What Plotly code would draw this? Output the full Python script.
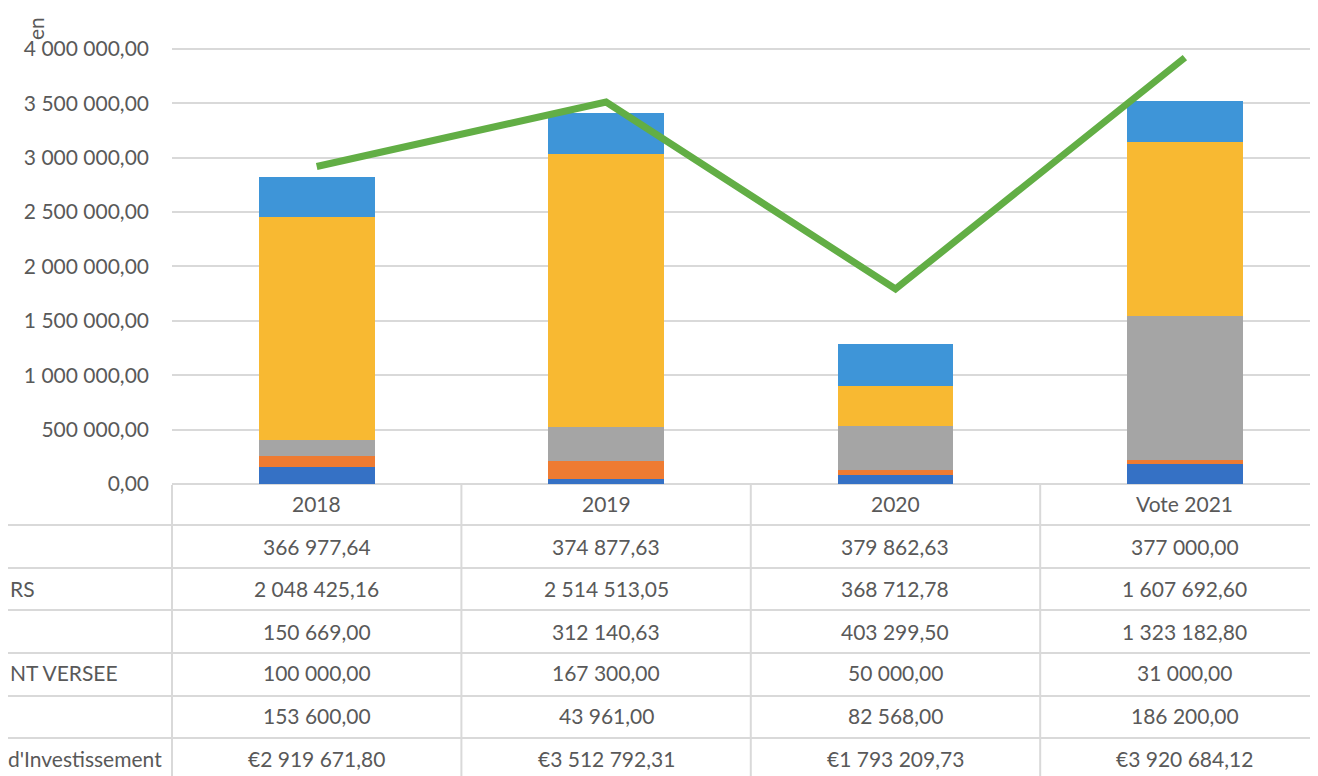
import plotly.graph_objects as go

# ---------------- data ----------------
categories = ["2018", "2019", "2020", "Vote 2021"]

# table rows, top to bottom
row1_values = [366977.64, 374877.63, 379862.63, 377000.00]        # light blue (top of stack)
row2_values = [2048425.16, 2514513.05, 368712.78, 1607692.60]     # yellow
row3_values = [150669.00, 312140.63, 403299.50, 1323182.80]       # gray
row4_values = [100000.00, 167300.00, 50000.00, 31000.00]          # orange
row5_values = [153600.00, 43961.00, 82568.00, 186200.00]          # dark blue (bottom)
total_values = [2919671.80, 3512792.31, 1793209.73, 3920684.12]   # green line

row_label_fragments = ["", "RS", "", "NT VERSEE", "", "d'Investissement"]
y_tick_values = [0, 500000, 1000000, 1500000, 2000000, 2500000, 3000000, 3500000, 4000000]
y_tick_labels = ["0,00", "500 000,00", "1 000 000,00", "1 500 000,00", "2 000 000,00",
                 "2 500 000,00", "3 000 000,00", "3 500 000,00", "4 000 000,00"]
axis_title_fragment = "en"

# ---------------- style ----------------
C_LIGHTBLUE = "#3E95D8"
C_YELLOW = "#F8B932"
C_GRAY = "#A5A5A5"
C_ORANGE = "#EE7B32"
C_DARKBLUE = "#3571C5"
C_GREEN = "#62AE45"
TXT = "#595959"
GRID = "#D9D9D9"
FONT = "Lato"
FS = 21

OFF = 8  # page body margin
W, H = 1318 - OFF, 776 - OFF
PLOT_L, PLOT_R = 172 - OFF, 1318 - OFF
PLOT_T, PLOT_B = 38 - OFF, 484 - OFF


def py(Y):
    """reference page pixel Y -> paper y"""
    return (PLOT_B - (Y - OFF)) / (PLOT_B - PLOT_T)


def px(X):
    """reference page pixel X -> paper x"""
    return ((X - OFF) - PLOT_L) / (PLOT_R - PLOT_L)


def fmt(v, euro=False):
    s = f"{v:,.2f}".replace(",", " ").replace(".", ",")
    return ("€" + s) if euro else s


fig = go.Figure()
stack = [
    ("s5", row5_values, C_DARKBLUE),
    ("s4", row4_values, C_ORANGE),
    ("s3", row3_values, C_GRAY),
    ("s2", row2_values, C_YELLOW),
    ("s1", row1_values, C_LIGHTBLUE),
]
for name, vals, col in stack:
    fig.add_trace(go.Bar(x=categories, y=vals, name=name, marker_color=col,
                         marker_line_width=0, width=0.4, showlegend=False))

fig.add_trace(go.Scatter(x=categories, y=total_values, mode="lines", name="total",
                         line=dict(color=C_GREEN, width=7), showlegend=False))

# ---------------- table ----------------
shapes = []
annotations = []
row_lines_Y = [525, 568, 610, 653, 696, 738]
for Y in row_lines_Y:
    shapes.append(dict(type="line", xref="paper", yref="paper", x0=-0.2, x1=1.0,
                       y0=py(Y), y1=py(Y), line=dict(color=GRID, width=2), layer="below"))
# vertical borders: left border and column boundaries
shapes.append(dict(type="line", xref="paper", yref="paper", x0=0, x1=0,
                   y0=py(485), y1=py(800), line=dict(color=GRID, width=2)))
for b in [0.5, 1.5, 2.5, 3.5]:
    shapes.append(dict(type="line", xref="x", yref="paper", x0=b, x1=b,
                       y0=py(485), y1=py(800), line=dict(color=GRID, width=2)))

txtfont = dict(family=FONT, size=FS, color=TXT)
header_Y = 503
row_Y = [546, 588, 631, 672, 715, 758]
for i, c in enumerate(categories):
    annotations.append(dict(x=i, y=py(header_Y), xref="x", yref="paper", text=c,
                            xanchor="center", yanchor="middle", showarrow=False, font=txtfont))
rows = [row1_values, row2_values, row3_values, row4_values, row5_values, total_values]
for r, (vals, Y) in enumerate(zip(rows, row_Y)):
    for i, v in enumerate(vals):
        annotations.append(dict(x=i, y=py(Y), xref="x", yref="paper", text=fmt(v, euro=(r == 5)),
                                xanchor="center", yanchor="middle", showarrow=False, font=txtfont))

# row label fragments (the rest of each label lies beyond the left edge)
for frag, Y in zip(row_label_fragments, row_Y):
    if not frag:
        continue
    if frag == "d'Investissement":
        annotations.append(dict(x=px(164), y=py(Y), xref="paper", yref="paper", text=frag,
                                xanchor="right", yanchor="middle", showarrow=False, font=txtfont))
    else:
        annotations.append(dict(x=px(OFF), y=py(Y), xref="paper", yref="paper", text=frag,
                                xanchor="left", yanchor="middle", showarrow=False, font=txtfont))

annotations.append(dict(x=px(35), y=py(29), xref="paper", yref="paper", text=axis_title_fragment,
                        textangle=-90, xanchor="center", yanchor="middle", showarrow=False,
                        font=txtfont))

fig.update_layout(
    width=W, height=H,
    margin=dict(l=PLOT_L, r=W - PLOT_R, t=PLOT_T, b=H - PLOT_B, pad=0),
    barmode="stack",
    plot_bgcolor="white", paper_bgcolor="white",
    shapes=shapes, annotations=annotations,
    font=dict(family=FONT, size=FS, color=TXT),
)
fig.update_xaxes(type="category", range=[-0.5, 3.46], showticklabels=False, showgrid=False,
                 zeroline=False, showline=False, ticks="")
fig.update_yaxes(range=[0, 4.101e6], tickvals=y_tick_values, ticktext=y_tick_labels,
                 showgrid=True, gridcolor=GRID, gridwidth=2, zeroline=True, zerolinecolor=GRID,
                 zerolinewidth=2, showline=False, ticks="", ticklabelstandoff=22,
                 tickfont=txtfont)

fig.write_html("out.html")
